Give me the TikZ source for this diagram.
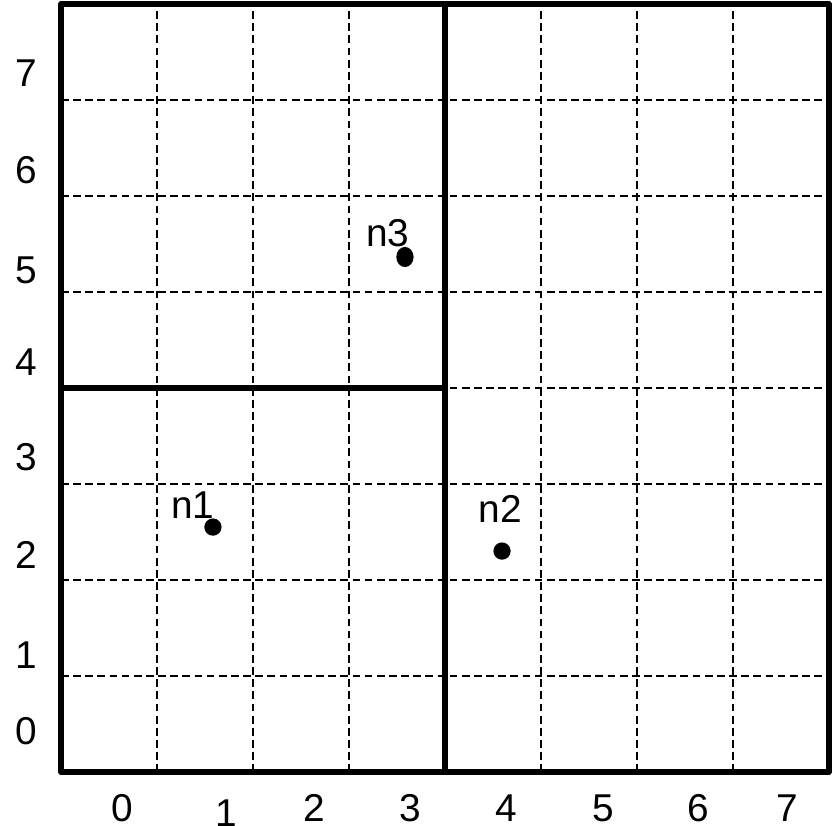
\documentclass[tikz,border=0pt]{standalone}
\usepackage{fontspec}
\setmainfont{Liberation Sans}
\usetikzlibrary{positioning,shapes.geometric}

\tikzset{
  gridline/.style={dash pattern=on 2.3pt off 1.3pt, line width=0.55pt},
  part/.style={line width=1.6pt, line join=round},
  pt/.style={circle, fill, inner sep=0pt, minimum size=0.18cm},
  tick/.style={inner sep=0pt, font=\fontsize{11.5}{13}\selectfont},
  lbl/.style={inner sep=0pt, font=\fontsize{11.5}{13}\selectfont}
}

\begin{document}
\begin{tikzpicture}
        \useasboundingbox (-0.635,-0.552) rectangle (8.031,8.042);
        % grid
        \draw [gridline] (0,0) grid (8,8);
        % partition
        \draw [part] (0,0) rectangle (8,8);
        \draw [part] (4,0) -- (4,8);
        \draw [part] (0,4) -- (4,4);
        % axis numbers
        \node [tick] (x0) at (0.635,-0.375) {0};
        \node [tick] (x1) at (1.72,-0.43) {1};
        \node [tick] (x2) at (2.64,-0.375) {2};
        \node [tick] (x3) at (3.64,-0.375) {3};
        \node [tick] (x4) at (4.64,-0.375) {4};
        \node [tick] (x5) at (5.65,-0.375) {5};
        \node [tick] (x6) at (6.64,-0.375) {6};
        \node [tick] (x7) at (7.57,-0.375) {7};
        \node [tick] (y0) at (-0.365,0.43) {0};
        \node [tick] (y1) at (-0.365,1.22) {1};
        \node [tick] (y2) at (-0.365,2.26) {2};
        \node [tick] (y3) at (-0.365,3.28) {3};
        \node [tick] (y4) at (-0.365,4.27) {4};
        \node [tick] (y5) at (-0.365,5.23) {5};
        \node [tick] (y6) at (-0.365,6.27) {6};
        \node [tick] (y7) at (-0.365,7.28) {7};
        % points
        \node [pt] (n1) at (1.583,2.552) {};
        \node [pt] (n2) at (4.594,2.302) {};
        \node [pt, ellipse, minimum width=0.18cm, minimum height=0.21cm] (n3) at (3.583,5.365) {};
        \node [lbl] (n1t) at ([shift={(-0.21,0.23)}]n1) {n1};
        \node [lbl] (n2t) at ([shift={(-0.02,0.44)}]n2) {n2};
        \node [lbl] (n3t) at ([shift={(-0.18,0.25)}]n3) {n3};
\end{tikzpicture}
\end{document}
